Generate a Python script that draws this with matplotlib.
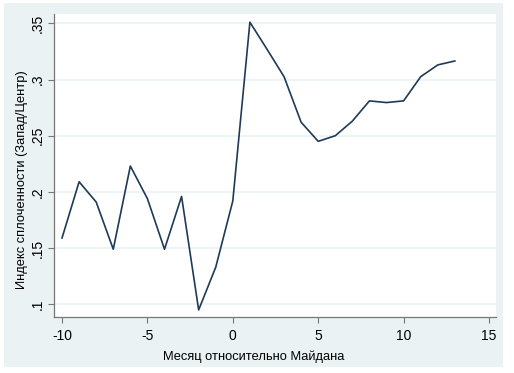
import matplotlib
matplotlib.use("Agg")
import matplotlib.pyplot as plt
from matplotlib.patches import Rectangle

months = [-10, -9, -8, -7, -6, -5, -4, -3, -2, -1, 0, 1, 2, 3, 4, 5, 6, 7, 8, 9, 10, 11, 12, 13]
index_vals = [0.159, 0.209, 0.191, 0.149, 0.223, 0.194, 0.149, 0.196, 0.095, 0.133, 0.192,
              0.351, 0.327, 0.3025, 0.262, 0.245, 0.250, 0.263, 0.281, 0.2795, 0.281, 0.3025, 0.313, 0.3165]
xticks = [-10, -5, 0, 5, 10, 15]
yticks = [0.1, 0.15, 0.2, 0.25, 0.3, 0.35]
ytick_labels = [".1", ".15", ".2", ".25", ".3", ".35"]
xlabel = "Месяц относительно Майдана"
ylabel = "Индекс сплоченности (Запад/Центр)"

plt.rcParams['font.family'] = ['Liberation Sans', 'DejaVu Sans']
plt.rcParams['axes.unicode_minus'] = False
bg = "#EAF2F3"
W, H = 514, 373
fig = plt.figure(figsize=(W/100, H/100), dpi=100, facecolor="white")
rect = Rectangle((4/W, (H-367)/H), (503-4)/W, (367-3)/H,
                 transform=fig.transFigure, facecolor=bg, edgecolor="none", zorder=-10)
fig.add_artist(rect)
ax = fig.add_axes([54/W, (H-317)/H, (496-54)/W, (317-14)/H])
ax.set_zorder(1)
ax.set_facecolor("white")
ax.plot(months, index_vals, color="#1f3a56", lw=1.2, zorder=3)
ax.set_xlim(-10.47, 15.41)
ax.set_ylim(0.0887, 0.3583)
ax.set_xticks(xticks)
ax.set_yticks(yticks)
ax.set_yticklabels(ytick_labels, rotation=90, va="center")
ax.grid(axis="y", color=bg, lw=1.2, zorder=1)
ax.grid(axis="x", visible=False)
for s in ["top", "right"]:
    ax.spines[s].set_visible(False)
for s in ["left", "bottom"]:
    ax.spines[s].set_color("#777777")
    ax.spines[s].set_linewidth(0.9)
ax.tick_params(axis="both", colors="#777777", labelcolor="black", labelsize=10, length=4, width=0.8)
ax.tick_params(axis="x", pad=5)
ax.tick_params(axis="y", pad=3)
fig.text(253.5/W, (H-357)/H, xlabel, fontsize=9.3, ha="center", va="center")
fig.text(22/W, (H-180)/H, ylabel, fontsize=9.3, ha="center", va="center", rotation=90)
fig.savefig("out.png", dpi=100, facecolor="white")
